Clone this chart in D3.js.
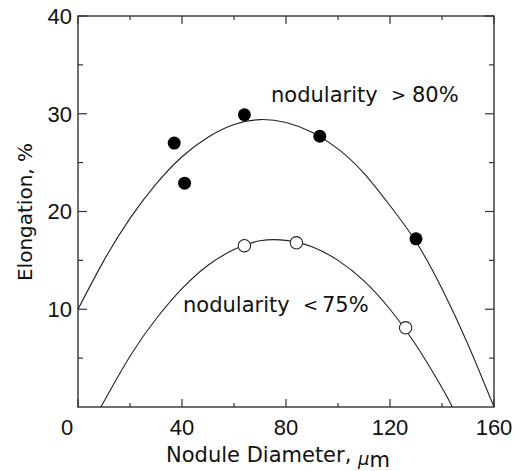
<!DOCTYPE html>
<html>
<head>
<meta charset="utf-8">
<script src="https://cdn.jsdelivr.net/npm/d3@7"></script>
<style>
  body { margin: 0; background: #fff; }
  text { fill: #111; }
</style>
</head>
<body>
<div id="chart"></div>
<script>
// measured points
var filledX = [37, 41, 64, 93, 130];
var filledY = [27.0, 22.9, 29.9, 27.7, 17.2];
var openX = [64, 84, 126];
var openY = [16.5, 16.8, 8.1];

// fitted curves
var upperCurveX = [0, 10, 20, 30, 40, 50, 60, 70, 80, 90, 100, 110, 120, 130, 140, 150, 160];
var upperCurveY = [10, 15, 19.3, 22.8, 25.6, 27.6, 28.9, 29.4, 29.1, 28.1, 26.4, 23.9, 20.6, 16.9, 12.1, 6.4, 0];
var lowerCurveX = [8.8, 20, 30, 40, 50, 60, 70, 80, 90, 100, 110, 120, 130, 140, 144];
var lowerCurveY = [0, 5.2, 9.0, 12.1, 14.5, 16.1, 17.0, 17.05, 16.4, 15.0, 12.9, 10.0, 6.35, 1.97, 0];

// ticks
var xMajor = [0, 40, 80, 120, 160];
var xMinor = [20, 60, 100, 140];
var yMajor = [10, 20, 30, 40];
var yMinor = [5, 15, 25, 35];

var width = 522, height = 471;

var x = d3.scaleLinear().domain([0, 160]).range([78, 494]);
var y = d3.scaleLinear().domain([0, 40]).range([407, 16]);

var svg = d3.select("#chart")
  .append("svg")
  .attr("width", width)
  .attr("height", height);

var axisColor = "#333";

// frame
svg.append("rect")
  .attr("x", x(0))
  .attr("y", y(40))
  .attr("width", x(160) - x(0))
  .attr("height", y(0) - y(40))
  .style("fill", "none")
  .style("stroke", axisColor)
  .style("stroke-width", 1.4);

// inward ticks on all four sides
function xTicks(vals, len) {
  svg.append("g").selectAll("line.b")
    .data(vals).enter().append("line")
    .attr("x1", d => x(d)).attr("x2", d => x(d))
    .attr("y1", y(0)).attr("y2", y(0) - len)
    .style("stroke", axisColor).style("stroke-width", 1.2);
  svg.append("g").selectAll("line.t")
    .data(vals).enter().append("line")
    .attr("x1", d => x(d)).attr("x2", d => x(d))
    .attr("y1", y(40)).attr("y2", y(40) + len)
    .style("stroke", axisColor).style("stroke-width", 1.2);
}
function yTicks(vals, len) {
  svg.append("g").selectAll("line.l")
    .data(vals).enter().append("line")
    .attr("x1", x(0)).attr("x2", x(0) + len)
    .attr("y1", d => y(d)).attr("y2", d => y(d))
    .style("stroke", axisColor).style("stroke-width", 1.2);
  svg.append("g").selectAll("line.r")
    .data(vals).enter().append("line")
    .attr("x1", x(160)).attr("x2", x(160) - len)
    .attr("y1", d => y(d)).attr("y2", d => y(d))
    .style("stroke", axisColor).style("stroke-width", 1.2);
}
xTicks(xMajor, 8);
xTicks(xMinor, 4);
yTicks(yMajor, 9);
yTicks(yMinor, 5);

// tick labels
svg.append("g").selectAll("text")
  .data(xMajor).enter().append("text")
  .attr("x", d => d == 0 ? x(d) - 11 : x(d))
  .attr("y", 435)
  .attr("text-anchor", "middle")
  .style("font-family", "'Liberation Sans', Arial, sans-serif")
  .style("font-size", "22px")
  .text(d => d);

svg.append("g").selectAll("text")
  .data(yMajor).enter().append("text")
  .attr("x", 72)
  .attr("y", d => y(d))
  .attr("dy", "0.36em")
  .attr("text-anchor", "end")
  .style("font-family", "'Liberation Sans', Arial, sans-serif")
  .style("font-size", "22px")
  .text(d => d);

// axis titles
var xt = svg.append("text")
  .attr("x", 166)
  .attr("y", 462)
  .style("font-family", "'DejaVu Sans', sans-serif")
  .style("font-size", "21px");
xt.append("tspan").text("Nodule Diameter,  ");
xt.append("tspan").attr("dy", 3).style("font-style", "italic").style("font-size", "18px").text("\u03bc");
xt.append("tspan").attr("dy", 2).text("m");

svg.append("text")
  .attr("transform", "translate(32,212) rotate(-90)")
  .attr("text-anchor", "middle")
  .style("font-family", "'DejaVu Sans', sans-serif")
  .style("font-size", "20px")
  .text("Elongation, %");

// curves
var line = d3.line()
  .x(d => x(d[0]))
  .y(d => y(d[1]))
  .curve(d3.curveNatural);

svg.append("path")
  .attr("d", line(upperCurveX.map((v, i) => [v, upperCurveY[i]])))
  .style("fill", "none").style("stroke", "#222").style("stroke-width", 1.1);

svg.append("path")
  .attr("d", line(lowerCurveX.map((v, i) => [v, lowerCurveY[i]])))
  .style("fill", "none").style("stroke", "#222").style("stroke-width", 1.1);

// points
svg.append("g").selectAll("circle")
  .data(filledX).enter().append("circle")
  .attr("cx", d => x(d))
  .attr("cy", (d, i) => y(filledY[i]))
  .attr("r", 6.5)
  .style("fill", "#000");

svg.append("g").selectAll("circle")
  .data(openX).enter().append("circle")
  .attr("cx", d => x(d))
  .attr("cy", (d, i) => y(openY[i]))
  .attr("r", 6.2)
  .style("fill", "#fff")
  .style("stroke", "#222")
  .style("stroke-width", 1.1);

// annotations
var ann = [
  {t: "nodularity", x: 271, y: 102, s: 21},
  {t: ">", x: 391, y: 101, s: 18},
  {t: "80%", x: 412, y: 102, s: 21},
  {t: "nodularity", x: 183, y: 312, s: 21},
  {t: "<", x: 303, y: 311, s: 18},
  {t: "75%", x: 322, y: 312, s: 21}
];
svg.append("g").selectAll("text")
  .data(ann).enter().append("text")
  .attr("x", d => d.x)
  .attr("y", d => d.y)
  .style("font-family", "'DejaVu Sans', sans-serif")
  .style("font-size", d => d.s + "px")
  .text(d => d.t);
</script>
</body>
</html>
